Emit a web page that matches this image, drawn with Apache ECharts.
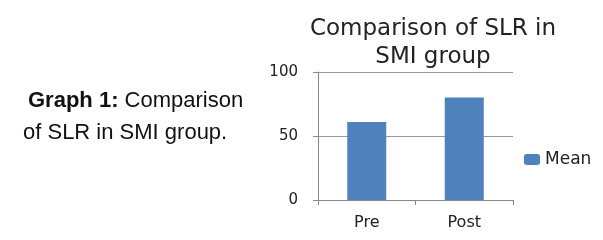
<!DOCTYPE html>
<html>
<head>
<meta charset="utf-8">
<script src="https://cdn.jsdelivr.net/npm/echarts@6/dist/echarts.min.js"></script>
<style>
  html, body { margin: 0; padding: 0; background: #fff; }
</style>
</head>
<body>
<div id="main" style="width:603px;height:240px;"></div>
<script>
  // data
  var categories = ['Pre', 'Post'];
  var meanValues = [61, 80];
  var seriesName = 'Mean';

  var chart = echarts.init(document.getElementById('main'));
  chart.setOption({
    animation: false,
    backgroundColor: '#fff',
    title: {
      text: 'Comparison of SLR in\nSMI group',
      left: 428,
      textAlign: 'center',
      top: 10,
      textStyle: {
        fontFamily: 'DejaVu Sans',
        fontWeight: 'normal',
        fontSize: 23,
        lineHeight: 28,
        color: '#222'
      }
    },
    graphic: [
      {
        type: 'text',
        left: 28,
        top: 90,
        style: {
          rich: {
            b: { fontFamily: 'Liberation Sans', fontWeight: 'bold', fontSize: 22, fill: '#111' },
            n: { fontFamily: 'Liberation Sans', fontSize: 22, fill: '#111' }
          },
          text: '{b|Graph 1:}{n| Comparison}'
        }
      },
      {
        type: 'text',
        left: 23,
        top: 122,
        style: {
          text: 'of SLR in SMI group.',
          fontFamily: 'Liberation Sans',
          fontSize: 22,
          fill: '#111'
        }
      }
    ],
    legend: {
      data: [seriesName],
      left: 519,
      top: 146,
      itemWidth: 16,
      itemHeight: 11,
      itemGap: 4,
      textStyle: { fontFamily: 'DejaVu Sans', fontSize: 17, color: '#222', padding: [0, 0, 0, 0] }
    },
    grid: { left: 318, right: 90, top: 72, bottom: 40 },
    xAxis: {
      type: 'category',
      data: categories,
      axisLine: { lineStyle: { color: '#888' } },
      axisTick: { show: true, length: 5, lineStyle: { color: '#888' } },
      axisLabel: { fontFamily: 'DejaVu Sans', fontSize: 16, color: '#222', margin: 15 }
    },
    yAxis: {
      type: 'value',
      min: 0,
      max: 100,
      interval: 50,
      axisLine: { show: true, lineStyle: { color: '#888' } },
      axisTick: { show: true, length: 5, lineStyle: { color: '#888' } },
      axisLabel: { fontFamily: 'DejaVu Sans', fontSize: 15, color: '#222', margin: 20 },
      splitLine: { lineStyle: { color: '#999' } }
    },
    series: [{
      name: seriesName,
      type: 'bar',
      data: meanValues,
      barWidth: '40%',
      itemStyle: { color: '#4F81BD' }
    }]
  });
</script>
</body>
</html>
